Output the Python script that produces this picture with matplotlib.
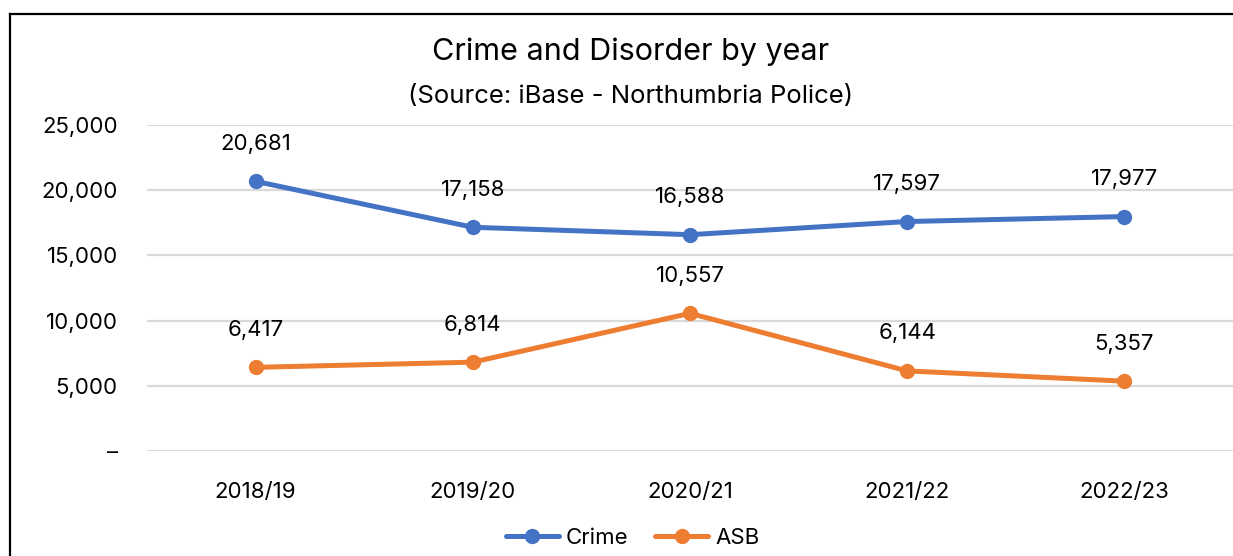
import matplotlib.pyplot as plt
from matplotlib.lines import Line2D
from matplotlib.ticker import FuncFormatter

plt.rcParams['font.family'] = ['Inter', 'DejaVu Sans']

# data
years = ['2018/19', '2019/20', '2020/21', '2021/22', '2022/23']
crime = [20681, 17158, 16588, 17597, 17977]
asb = [6417, 6814, 10557, 6144, 5357]

blue = '#4472C4'
orange = '#ED7D31'

fig = plt.figure(figsize=(12.33, 5.56), dpi=100)
ax = fig.add_axes([0.1192, 0.1888, 0.8808, 0.5864])

x = range(len(years))
ax.plot(x, crime, color=blue, lw=3.6, marker='o', markersize=10, label='Crime',
        solid_capstyle='round')
ax.plot(x, asb, color=orange, lw=3.6, marker='o', markersize=10, label='ASB',
        solid_capstyle='round')

for xi, v in zip(x, crime):
    ax.annotate(f'{v:,}', (xi, v), xytext=(0, 27), textcoords='offset points',
                ha='center', va='center', fontsize=16)
for xi, v in zip(x, asb):
    ax.annotate(f'{v:,}', (xi, v), xytext=(0, 27), textcoords='offset points',
                ha='center', va='center', fontsize=16)

ax.set_xlim(-0.5, 4.5)
ax.set_ylim(0, 25000)
ax.set_yticks(range(0, 25001, 5000))
ax.yaxis.set_major_formatter(FuncFormatter(lambda v, p: '–' if v == 0 else f'{int(v):,}'))
ax.set_xticks(list(x))
ax.set_xticklabels(years)
ax.tick_params(axis='both', length=0, labelsize=16)
ax.tick_params(axis='y', pad=21)
ax.tick_params(axis='x', pad=22)
ax.grid(axis='y', color='#D9D9D9', lw=1.6)
ax.set_axisbelow(True)
for s in ax.spines.values():
    s.set_visible(False)

fig.text(0.511, 1 - 52 / 556, 'Crime and Disorder by year', ha='center', va='center', fontsize=22)
fig.text(0.511, 1 - 97 / 556, '(Source: iBase - Northumbria Police)', ha='center', va='center',
         fontsize=18.5)

ax.legend(loc='center', bbox_to_anchor=(0.513, 1 - 538 / 556), bbox_transform=fig.transFigure,
          ncol=2, frameon=False, fontsize=16, handlelength=2.4, handletextpad=0.3,
          columnspacing=1.2)

# chart border (cropped on right and bottom)
fig.add_artist(Line2D([10 / 1233, 1], [1 - 14 / 556, 1 - 14 / 556], color='black', lw=1.6))
fig.add_artist(Line2D([10 / 1233, 10 / 1233], [0, 1 - 14 / 556], color='black', lw=1.6))

fig.savefig('out.png', dpi=100)
